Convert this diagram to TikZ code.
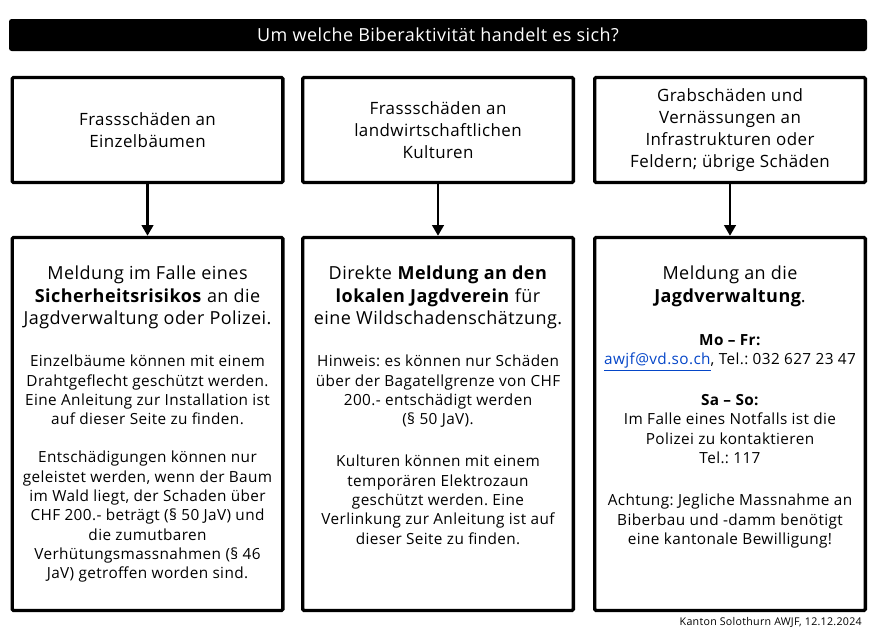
\documentclass[tikz,border=0pt]{standalone}
\usepackage{fontspec}
\setmainfont[LetterSpace=2.5]{Open Sans}
\usetikzlibrary{arrows.meta}
\definecolor{linkblue}{RGB}{5,70,200}
\frenchspacing
\begin{document}
\begin{tikzpicture}[x=0.75pt,y=-0.75pt,
  box/.style={draw=black,line width=2.5pt,rounded corners=1pt,align=center,inner sep=0pt},
  topbox/.style={box,minimum width=203pt,minimum height=78.75pt,font=\fontsize{12.7}{16.5}\selectfont},
  botbox/.style={box,minimum width=203pt,minimum height=279.75pt},
  big/.style={align=center,inner sep=0pt,anchor=north,font=\fontsize{13.5}{16.6}\selectfont},
  small/.style={align=center,inner sep=0pt,anchor=north,font=\fontsize{11.5}{14.5}\selectfont},
  arr/.style={line width=2.2pt,-{Triangle[length=8pt,width=8.5pt]}}]
\useasboundingbox (0,0) rectangle (877,633);
% title bar
\node[fill=black,rounded corners=2pt,minimum width=643.5pt,minimum height=24pt,inner sep=0pt,
      text=white,font=\fontsize{13.5}{15}\selectfont] (title) at (438,35) {Um welche Biberaktivität handelt es sich?};
% top boxes
\node[topbox] (t1) at (147.5,130) {Frassschäden an\\Einzelbäumen};
\node[topbox] (t2) at (438,130) {Frassschäden an\\landwirtschaftlichen\\Kulturen};
\node[topbox] (t3) at (730,130) {Grabschäden und\\Vernässungen an\\Infrastrukturen oder\\Feldern; übrige Schäden};
% bottom boxes
\node[botbox] (b1) at (147.5,424) {};
\node[botbox] (b2) at (438,424) {};
\node[botbox] (b3) at (730,424) {};
% arrows
\draw[arr] (t1.south) -- (b1.north);
\draw[arr] (t2.south) -- (b2.north);
\draw[arr] (t3.south) -- (b3.north);
% box 1 text
\node[big] (b1a) at (147.5,266) {Meldung im Falle eines\\\textbf{Sicherheitsrisikos} an die\\Jagdverwaltung oder Polizei.};
\node[small] (b1b) at (147.5,355) {Einzelbäume können mit einem\\Drahtgeflecht geschützt werden.\\Eine Anleitung zur Installation ist\\auf dieser Seite zu finden.};
\node[small] (b1c) at (147.5,451) {Entschädigungen können nur\\geleistet werden, wenn der Baum\\im Wald liegt, der Schaden über\\CHF 200.- beträgt (§ 50 JaV) und\\die zumutbaren\\Verhütungsmassnahmen (§ 46\\JaV) getroffen worden sind.};
% box 2 text
\node[big] (b2a) at (438,266) {Direkte \textbf{Meldung an den}\\\textbf{lokalen Jagdverein} für\\eine Wildschadenschätzung.};
\node[small] (b2b) at (438,355) {Hinweis: es können nur Schäden\\über der Bagatellgrenze von CHF\\200.- entschädigt werden\\(§ 50 JaV).};
\node[small] (b2c) at (438,455) {Kulturen können mit einem\\temporären Elektrozaun\\geschützt werden. Eine\\Verlinkung zur Anleitung ist auf\\dieser Seite zu finden.};
% box 3 text
\node[big] (b3a) at (730,266) {Meldung an die\\\textbf{Jagdverwaltung}.};
\node[small] (b3b) at (730,334) {\textbf{Mo – Fr:}\\\textcolor{linkblue}{\underline{awjf@vd.so.ch}}, Tel.: 032 627 23 47};
\node[small] (b3c) at (730,394) {\textbf{Sa – So:}\\Im Falle eines Notfalls ist die\\Polizei zu kontaktieren\\Tel.: 117};
\node[small] (b3d) at (730,494) {Achtung: Jegliche Massnahme an\\Biberbau und -damm benötigt\\eine kantonale Bewilligung!};
% footer
\node[anchor=east,inner sep=0pt,font=\fontsize{8}{9}\selectfont] (foot) at (862,622) {Kanton Solothurn AWJF, 12.12.2024};
\end{tikzpicture}
\end{document}
